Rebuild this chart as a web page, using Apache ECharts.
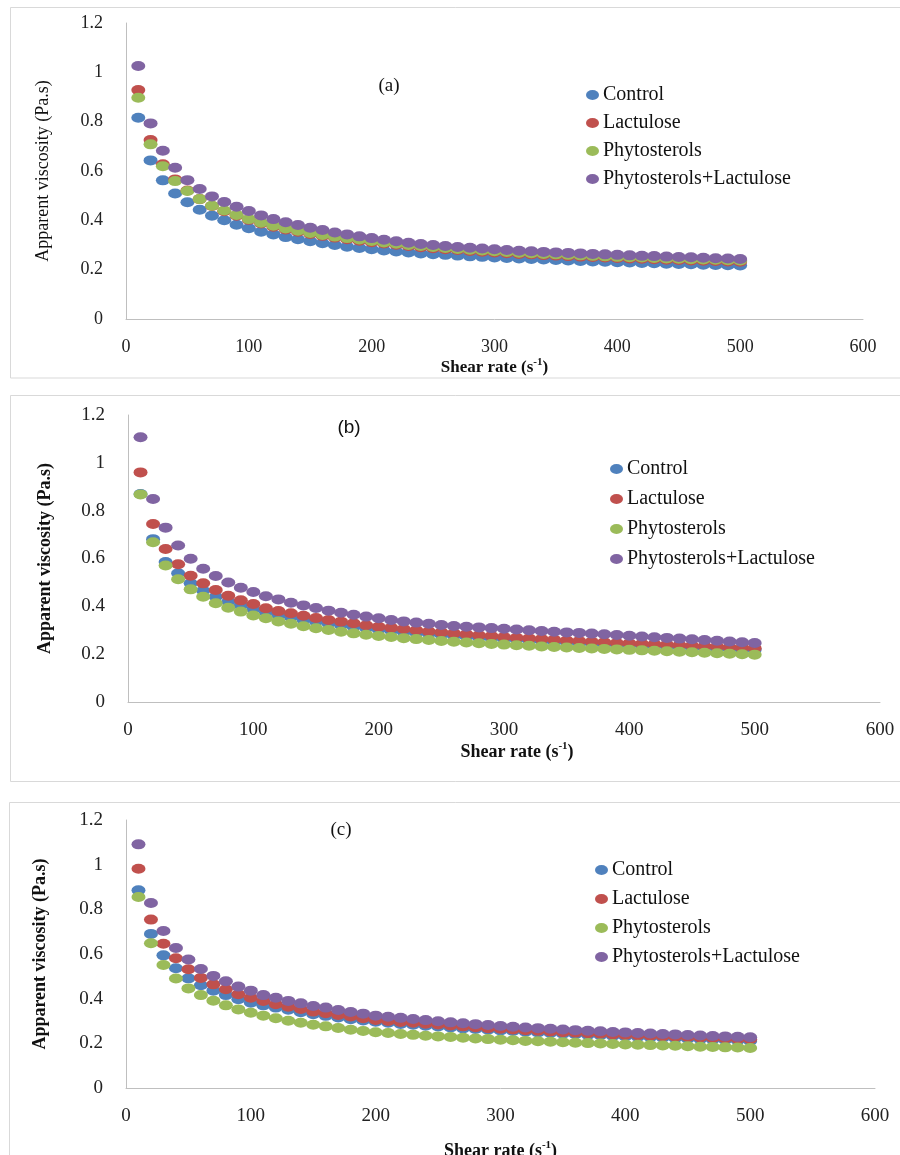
<!DOCTYPE html>
<html>
<head>
<meta charset="utf-8">
<script src="https://cdn.jsdelivr.net/npm/echarts@6/dist/echarts.min.js"></script>
<style>html,body{margin:0;padding:0;background:#fff}#chart{width:900px;height:1155px}</style>
</head>
<body>
<div id="chart"></div>
<script>
// ---------- DATA ----------
const shearRate = [10,20,30,40,50,60,70,80,90,100,
  110,120,130,140,150,160,170,180,190,200,
  210,220,230,240,250,260,270,280,290,300,
  310,320,330,340,350,360,370,380,390,400,
  410,420,430,440,450,460,470,480,490,500];

const seriesNames = ['Control', 'Lactulose', 'Phytosterols', 'Phytosterols+Lactulose'];
const panelLabels = ['(a)', '(b)', '(c)'];
const xTickLabels = ['0', '100', '200', '300', '400', '500', '600'];
const yTickLabels = ['0', '0.2', '0.4', '0.6', '0.8', '1', '1.2'];
const yAxisTitle = 'Apparent viscosity (Pa.s)';
const xAxisTitle = 'Shear rate (s';
const xAxisTitleSup = '-1';

// Panel (a)
const controlA = [0.816,0.643,0.562,0.509,0.473,0.443,0.419,0.400,0.382,0.368,
  0.354,0.343,0.332,0.323,0.315,0.307,0.300,0.293,0.288,0.283,
  0.278,0.274,0.270,0.266,0.263,0.260,0.257,0.254,0.252,0.249,
  0.247,0.245,0.243,0.241,0.239,0.237,0.235,0.233,0.232,0.230,
  0.229,0.227,0.226,0.224,0.223,0.222,0.220,0.219,0.218,0.217];
const lactuloseA = [0.928,0.726,0.627,0.566,0.521,0.486,0.458,0.437,0.419,0.402,
  0.387,0.374,0.363,0.354,0.345,0.337,0.330,0.323,0.317,0.311,
  0.306,0.301,0.296,0.291,0.287,0.283,0.280,0.276,0.273,0.270,
  0.267,0.264,0.262,0.259,0.257,0.255,0.253,0.251,0.249,0.247,
  0.245,0.244,0.242,0.240,0.239,0.237,0.236,0.235,0.233,0.232];
const phytosterolsA = [0.897,0.708,0.619,0.559,0.519,0.486,0.459,0.440,0.422,0.405,
  0.390,0.378,0.367,0.358,0.349,0.341,0.334,0.328,0.322,0.316,
  0.310,0.305,0.300,0.296,0.292,0.288,0.284,0.281,0.278,0.275,
  0.272,0.269,0.267,0.264,0.262,0.260,0.258,0.256,0.254,0.252,
  0.250,0.249,0.247,0.245,0.244,0.242,0.241,0.240,0.238,0.237];
const phytoLactA = [1.026,0.793,0.682,0.613,0.563,0.527,0.497,0.474,0.455,0.438,
  0.420,0.405,0.392,0.381,0.370,0.361,0.351,0.343,0.335,0.328,
  0.321,0.315,0.309,0.304,0.300,0.296,0.292,0.289,0.286,0.283,
  0.280,0.277,0.275,0.272,0.270,0.268,0.266,0.264,0.262,0.260,
  0.258,0.256,0.255,0.253,0.251,0.250,0.248,0.246,0.245,0.243];

// Panel (b)
const controlB = [0.870,0.681,0.585,0.538,0.496,0.465,0.440,0.419,0.404,0.389,
  0.375,0.363,0.354,0.344,0.336,0.328,0.321,0.315,0.309,0.303,
  0.298,0.293,0.289,0.285,0.281,0.277,0.274,0.270,0.267,0.264,
  0.261,0.258,0.255,0.252,0.250,0.247,0.245,0.242,0.240,0.238,
  0.236,0.234,0.232,0.230,0.228,0.226,0.224,0.222,0.220,0.218];
const lactuloseB = [0.960,0.744,0.640,0.576,0.528,0.496,0.468,0.444,0.425,0.410,
  0.392,0.380,0.371,0.361,0.351,0.343,0.336,0.329,0.321,0.315,
  0.310,0.305,0.300,0.295,0.291,0.287,0.283,0.279,0.276,0.272,
  0.269,0.266,0.263,0.260,0.257,0.255,0.252,0.250,0.247,0.245,
  0.243,0.241,0.239,0.237,0.235,0.233,0.231,0.229,0.227,0.225];
const phytosterolsB = [0.868,0.668,0.571,0.513,0.471,0.440,0.413,0.394,0.378,0.362,
  0.350,0.337,0.327,0.317,0.308,0.301,0.294,0.287,0.281,0.276,
  0.272,0.267,0.263,0.259,0.255,0.252,0.249,0.246,0.243,0.240,
  0.237,0.235,0.232,0.230,0.228,0.226,0.224,0.222,0.220,0.218,
  0.216,0.214,0.212,0.210,0.208,0.206,0.204,0.202,0.200,0.198];
const phytoLactB = [1.107,0.849,0.729,0.654,0.599,0.557,0.527,0.500,0.478,0.460,
  0.442,0.429,0.415,0.404,0.393,0.382,0.373,0.365,0.357,0.350,
  0.343,0.337,0.332,0.327,0.322,0.318,0.315,0.312,0.309,0.306,
  0.303,0.300,0.297,0.294,0.291,0.289,0.286,0.283,0.280,0.277,
  0.274,0.271,0.268,0.265,0.262,0.259,0.256,0.253,0.250,0.247];

// Panel (c)
const controlC = [0.885,0.690,0.594,0.536,0.491,0.460,0.436,0.416,0.397,0.382,
  0.370,0.360,0.350,0.339,0.330,0.323,0.316,0.308,0.302,0.297,
  0.292,0.287,0.283,0.279,0.275,0.271,0.267,0.264,0.261,0.258,
  0.255,0.252,0.249,0.246,0.243,0.241,0.238,0.236,0.233,0.231,
  0.229,0.227,0.225,0.223,0.221,0.219,0.217,0.215,0.213,0.211];
const lactuloseC = [0.982,0.754,0.646,0.581,0.532,0.493,0.464,0.442,0.420,0.404,
  0.390,0.375,0.364,0.354,0.342,0.335,0.327,0.320,0.312,0.305,
  0.300,0.296,0.292,0.288,0.284,0.280,0.276,0.272,0.268,0.265,
  0.262,0.259,0.256,0.253,0.250,0.248,0.245,0.243,0.240,0.238,
  0.236,0.234,0.232,0.230,0.228,0.226,0.224,0.222,0.220,0.218];
const phytosterolsC = [0.855,0.648,0.551,0.490,0.446,0.416,0.391,0.370,0.352,0.337,
  0.324,0.312,0.301,0.292,0.283,0.276,0.269,0.261,0.255,0.250,
  0.246,0.242,0.238,0.234,0.231,0.228,0.225,0.222,0.219,0.216,
  0.214,0.211,0.209,0.207,0.205,0.203,0.201,0.199,0.197,0.195,
  0.194,0.192,0.190,0.189,0.187,0.185,0.184,0.182,0.181,0.179];
const phytoLactC = [1.091,0.828,0.703,0.627,0.575,0.533,0.502,0.478,0.454,0.436,
  0.416,0.404,0.390,0.379,0.367,0.360,0.349,0.340,0.333,0.324,
  0.319,0.314,0.309,0.304,0.299,0.294,0.290,0.286,0.282,0.278,
  0.274,0.271,0.268,0.265,0.262,0.259,0.256,0.254,0.251,0.249,
  0.246,0.244,0.242,0.240,0.237,0.235,0.233,0.231,0.229,0.227];

const panelData = [
  [controlA, lactuloseA, phytosterolsA, phytoLactA],
  [controlB, lactuloseB, phytosterolsB, phytoLactB],
  [controlC, lactuloseC, phytosterolsC, phytoLactC]
];

// ---------- STYLE / LAYOUT ----------
const colors = ['#4F81BD', '#C0504D', '#9BBB59', '#8064A2'];
const SERIF = '"Liberation Serif", "Times New Roman", serif';
const ellipse = 'path://M0,1A1,1 0 1,1 2,1A1,1 0 1,1 0,1Z';
const layout = [
  { grid: {left: 126, top: 23, width: 737, height: 296}, tickFont: 18, yNameGap: 74, yNameBold: 'normal', xNameGap: 34, xNameFont: 17, xNamePad: 0,
    legend: {left: 581, top: 80, itemGap: 8, fontSize: 20}, label: {x: 389, y: 86, font: SERIF},
    frame: {x: 10.5, y: 7.5, width: 900, height: 370.5} },
  { grid: {left: 128, top: 415, width: 752, height: 287}, tickFont: 19, yNameGap: 74, yNameBold: 'bold', xNameGap: 37, xNameFont: 18, xNamePad: 26,
    legend: {left: 605, top: 454, itemGap: 10, fontSize: 20}, label: {x: 349, y: 428, font: '"Liberation Sans", Arial, sans-serif'},
    frame: {x: 10.5, y: 395.5, width: 900, height: 386} },
  { grid: {left: 126, top: 820, width: 749, height: 268}, tickFont: 19, yNameGap: 77, yNameBold: 'bold', xNameGap: 52, xNameFont: 18, xNamePad: 0,
    legend: {left: 590, top: 855, itemGap: 9, fontSize: 20}, label: {x: 341, y: 830, font: SERIF},
    frame: {x: 9.5, y: 802.5, width: 900, height: 400} }
];

const grids = [], xAxes = [], yAxes = [], legends = [], series = [], graphics = [];
layout.forEach((p, i) => {
  grids.push(Object.assign({containLabel: false, outerBoundsMode: 'none'}, p.grid));
  xAxes.push({
    type: 'value', gridIndex: i, min: 0, max: 600, interval: 100,
    axisLine: {show: true, lineStyle: {color: '#BFBFBF', width: 1}},
    axisTick: {show: false}, splitLine: {show: false},
    axisLabel: {margin: 19, color: '#222', fontFamily: SERIF, fontSize: p.tickFont,
      formatter: v => xTickLabels[Math.round(v / 100)]},
    name: '{t|' + xAxisTitle + '}{s|' + xAxisTitleSup + '}{t|)}',
    nameLocation: 'middle', nameGap: p.xNameGap,
    nameTextStyle: {padding: [0, 0, 0, p.xNamePad],
      rich: {
        t: {fontFamily: SERIF, fontSize: p.xNameFont, fontWeight: 'bold', color: '#111', lineHeight: p.xNameFont + 4},
        s: {fontFamily: SERIF, fontSize: Math.round(p.xNameFont * 0.62), fontWeight: 'bold', color: '#111', verticalAlign: 'top', lineHeight: p.xNameFont + 4}
      }}
  });
  yAxes.push({
    type: 'value', gridIndex: i, min: 0, max: 1.2, interval: 0.2,
    axisLine: {show: true, lineStyle: {color: '#BFBFBF', width: 1}},
    axisTick: {show: false}, splitLine: {show: false},
    axisLabel: {margin: 23, color: '#222', fontFamily: SERIF, fontSize: p.tickFont,
      formatter: v => yTickLabels[Math.round(v / 0.2)]},
    name: yAxisTitle, nameLocation: 'middle', nameGap: p.yNameGap, nameRotate: 90,
    nameTextStyle: {fontFamily: SERIF, fontSize: 18, fontWeight: p.yNameBold, color: '#111'}
  });
  legends.push({
    orient: 'vertical', left: p.legend.left, top: p.legend.top, itemGap: p.legend.itemGap,
    itemWidth: 13, itemHeight: 10, icon: ellipse, symbolKeepAspect: false, selectedMode: false,
    textStyle: {fontFamily: SERIF, fontSize: p.legend.fontSize, color: '#111', padding: [0, 0, 0, -1]},
    data: seriesNames.slice()
  });
  panelData[i].forEach((vals, k) => {
    series.push({
      type: 'scatter', name: seriesNames[k], xAxisIndex: i, yAxisIndex: i,
      symbol: ellipse, symbolSize: [14, 10], symbolKeepAspect: false,
      itemStyle: {color: colors[k], opacity: 1},
      data: shearRate.map((x, j) => [x, vals[j]]),
      z: 2 + k
    });
  });
  graphics.push({
    type: 'rect', silent: true, z: -1,
    shape: p.frame, style: {fill: 'none', stroke: '#D9D9D9', lineWidth: 1}
  });
  graphics.push({
    type: 'text', x: p.label.x, y: p.label.y, silent: true,
    style: {text: panelLabels[i], fontFamily: p.label.font, fontSize: 19, fill: '#111', align: 'center', verticalAlign: 'middle'}
  });
});

const chart = echarts.init(document.getElementById('chart'), null, {renderer: 'canvas'});
chart.setOption({
  animation: false,
  backgroundColor: '#fff',
  color: colors,
  grid: grids, xAxis: xAxes, yAxis: yAxes, legend: legends,
  series: series, graphic: graphics
});
</script>
</body>
</html>
